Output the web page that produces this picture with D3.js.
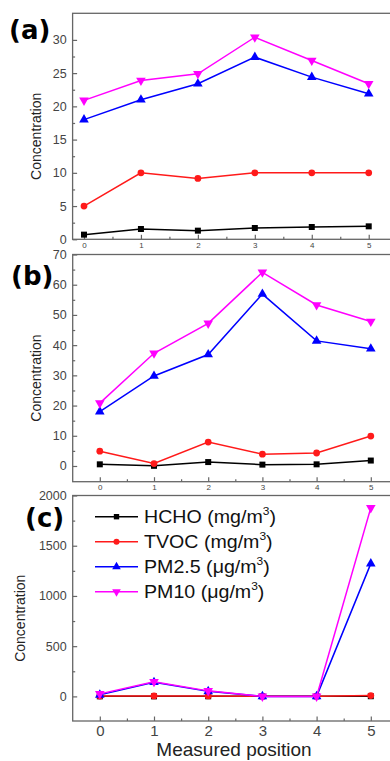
<!DOCTYPE html>
<html lang="en">
<head>
    <meta charset="UTF-8">
    <title>Concentration vs measured position</title>
    <script src="https://d3js.org/d3.v7.min.js"></script>
    <style>
        body { margin: 0; background: #fff; }
        svg { display: block; font-family: "Liberation Sans", Arial, sans-serif; }
        .tick text { fill: #444; }
        .domain { display: none; }
        .tick line { stroke: #666; stroke-width: 1.2; }
    </style>
</head>
<body>
<svg id="chart" width="390" height="761"></svg>
<script>
// measured positions (x axis)
const positions = [0, 1, 2, 3, 4, 5];

// series names / units
const seriesNames = ["HCHO", "TVOC", "PM2.5", "PM10"];
const seriesUnits = ["mg/m", "mg/m", "\u03bcg/m", "\u03bcg/m"];

// panel (a)
const hchoA = [0.7, 1.55, 1.3, 1.7, 1.85, 1.95];
const tvocA = [5, 10, 9.15, 10, 10, 10];
const pm25A = [18, 21, 23.4, 27.4, 24.4, 21.9];
const pm10A = [20.9, 23.9, 24.9, 30.4, 26.9, 23.4];

// panel (b)
const hchoB = [0.55, 0.05, 1.3, 0.45, 0.55, 1.8];
const tvocB = [4.9, 0.8, 7.9, 3.9, 4.3, 9.9];
const pm25B = [18, 29.8, 36.9, 56.9, 41.4, 38.8];
const pm10B = [20.8, 37.3, 47.2, 64.1, 53.3, 47.8];

// panel (c)
const hchoC = [0.5, 0.3, 1, 0.5, 0.5, 1.5];
const tvocC = [3, 5, 5, 1, 1, 8];
const pm25C = [15, 140, 50, 0, 0, 1322];
const pm10C = [25, 146, 55, 0, 0, 1877];

// tick values
const yTicksA = [0, 5, 10, 15, 20, 25, 30];
const yTicksB = [0, 10, 20, 30, 40, 50, 60, 70];
const yTicksC = [0, 500, 1000, 1500, 2000];

const colors = ["#000000", "#ff1a1a", "#0000ff", "#ff00ff"];
const symbols = [d3.symbolSquare, d3.symbolCircle, d3.symbolTriangle, d3.symbolTriangle];
const symbolSizes = [36, 36, 40, 40];
const symbolRotate = [0, 0, 0, 180];

const svg = d3.select("#chart");

const panels = [
    {
        label: "(a)", labelX: 9, labelY: 39,
        series: [hchoA, tvocA, pm25A, pm10A],
        x: d3.scaleLinear().domain([-0.2, 5.4]).range([72.6, 391.5]),
        y: d3.scaleLinear().domain([0, 34]).range([239.3, 13.3]),
        yTicks: yTicksA, yMinor: 2.5, xFont: 8, titleX: 37
    },
    {
        label: "(b)", labelX: 11, labelY: 285,
        series: [hchoB, tvocB, pm25B, pm10B],
        x: d3.scaleLinear().domain([-0.5, 5.5]).range([72.7, 397.9]),
        y: d3.scaleLinear().domain([-5.2, 70]).range([481.7, 254.5]),
        yTicks: yTicksB, yMinor: 5, xFont: 8, titleX: 37
    },
    {
        label: "(c)", labelX: 25, labelY: 527,
        series: [hchoC, tvocC, pm25C, pm10C],
        x: d3.scaleLinear().domain([-0.5, 5.5]).range([72.7, 397.9]),
        y: d3.scaleLinear().domain([-245, 2000]).range([721, 495.5]),
        yTicks: yTicksC, yMinor: 250, xFont: 15, titleX: 21
    }
];

panels.forEach(p => {
    const [x0, x1] = p.x.range();
    const [y0, y1] = p.y.range();
    const g = svg.append("g");

    // frame
    g.append("rect")
        .attr("x", x0).attr("y", y1)
        .attr("width", x1 - x0).attr("height", y0 - y1)
        .attr("fill", "none").attr("stroke", "#666").attr("stroke-width", 1.3);

    // y axis (ticks inward)
    const yMin = d3.range(0, d3.max(p.yTicks) + p.yMinor / 2, p.yMinor)
        .filter(v => !p.yTicks.includes(v) && v <= p.y.domain()[1]);
    g.append("g").attr("transform", `translate(${x0},0)`)
        .call(d3.axisLeft(p.y).tickValues(p.yTicks).tickSize(-4.5).tickPadding(6)
            .tickFormat(d3.format("d")))
        .selectAll("text").style("font-size", "12.5px");
    g.append("g").attr("transform", `translate(${x0},0)`)
        .call(d3.axisLeft(p.y).tickValues(yMin).tickSize(-2.5).tickFormat(""));

    // x axis (ticks inward)
    g.append("g").attr("transform", `translate(0,${y0})`)
        .call(d3.axisBottom(p.x).tickValues(positions).tickSize(-4.5)
            .tickPadding(p.xFont > 10 ? 4 : 3).tickFormat(d3.format("d")))
        .selectAll("text").style("font-size", p.xFont + "px");
    g.append("g").attr("transform", `translate(0,${y0})`)
        .call(d3.axisBottom(p.x).tickValues(positions.slice(0, 5).map(d => d + 0.5))
            .tickSize(-2.5).tickFormat(""));

    // y title
    g.append("text")
        .attr("transform", `translate(${p.titleX},${(y0 + y1) / 2 + 10}) rotate(-90)`)
        .attr("text-anchor", "middle")
        .attr("dominant-baseline", "middle")
        .style("font-size", "14px")
        .attr("fill", "#222")
        .text("Concentration");

    // panel label
    g.append("text")
        .attr("x", p.labelX).attr("y", p.labelY)
        .style("font-family", "'DejaVu Sans', sans-serif")
        .style("font-weight", "bold")
        .style("font-size", "26px")
        .text(p.label);

    // series
    const line = d3.line().x((d, i) => p.x(positions[i])).y(d => p.y(d));
    p.series.forEach((vals, s) => {
        g.append("path")
            .datum(vals)
            .attr("d", line)
            .attr("fill", "none")
            .attr("stroke", colors[s])
            .attr("stroke-width", 1.5);
        g.selectAll(null)
            .data(vals)
            .enter()
            .append("path")
            .attr("d", d3.symbol().type(symbols[s]).size(symbolSizes[s]))
            .attr("transform", (d, i) => `translate(${p.x(positions[i])},${p.y(d)}) rotate(${symbolRotate[s]})`)
            .attr("fill", colors[s]);
    });
});

// legend (inside panel c)
const legend = svg.append("g");
seriesNames.forEach((name, s) => {
    const y = 516.7 + s * 25;
    legend.append("line")
        .attr("x1", 95).attr("x2", 138).attr("y1", y).attr("y2", y)
        .attr("stroke", colors[s]).attr("stroke-width", 1.5);
    legend.append("path")
        .attr("d", d3.symbol().type(symbols[s]).size(symbolSizes[s] * 0.8))
        .attr("transform", `translate(116.5,${y}) rotate(${symbolRotate[s]})`)
        .attr("fill", colors[s]);
    const t = legend.append("text")
        .attr("transform", `translate(144,${y + 6.5}) scale(1.09,1)`)
        .style("font-size", "18px")
        .attr("fill", "#111");
    t.append("tspan").text(`${name} (${seriesUnits[s]}`);
    t.append("tspan").attr("dy", -8).style("font-size", "11px").text("3");
    t.append("tspan").attr("dy", 8).text(")");
});

// x title
svg.append("text")
    .attr("x", 234).attr("y", 756)
    .attr("text-anchor", "middle")
    .style("font-size", "19px")
    .attr("fill", "#222")
    .text("Measured position");
</script>
</body>
</html>
